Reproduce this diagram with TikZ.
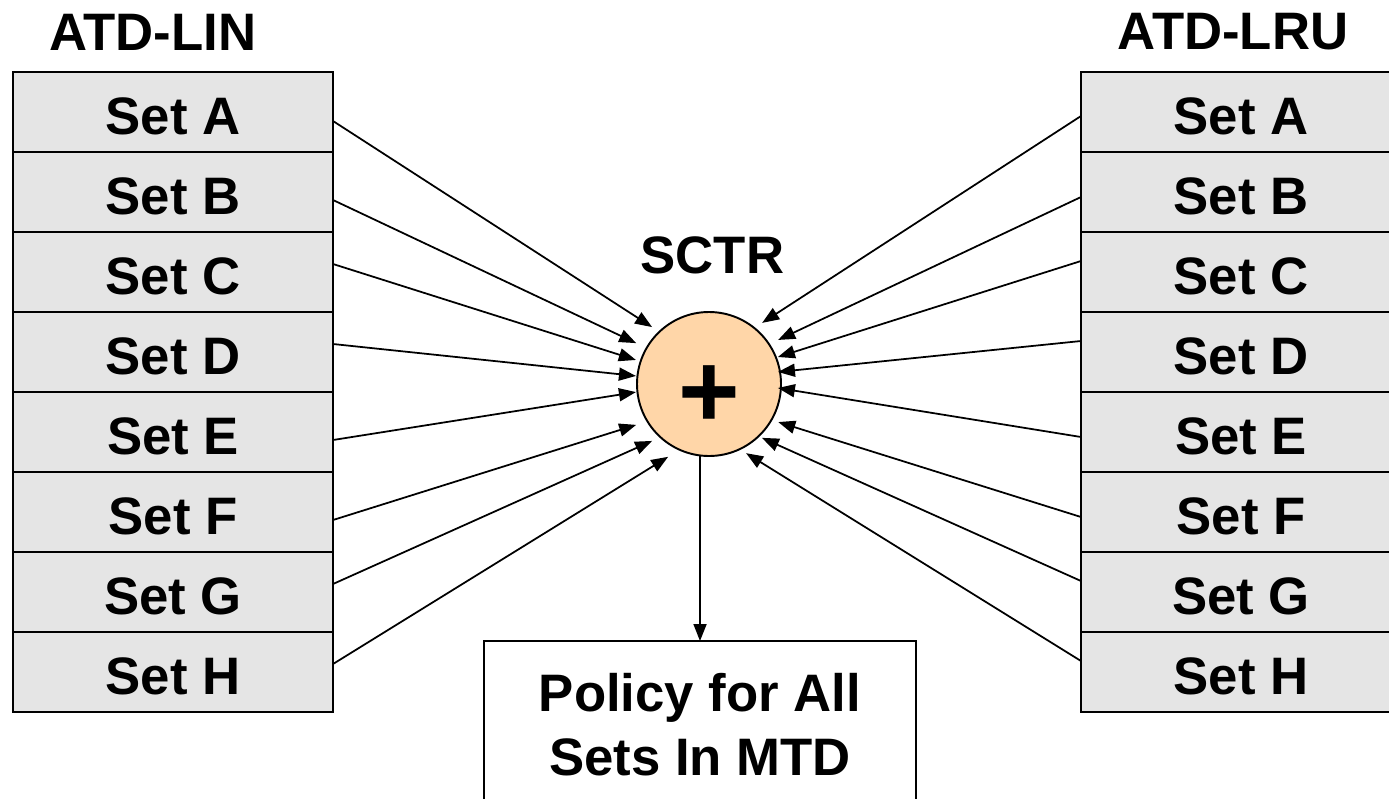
\documentclass[tikz,border=0pt]{standalone}
\usepackage{fontspec}
\setmainfont{Liberation Sans}
\usepackage{tikz}
\usetikzlibrary{arrows.meta, positioning}

\definecolor{cellgray}{RGB}{229,229,229}
\definecolor{sumfill}{RGB}{255,214,168}

\begin{document}
\begin{tikzpicture}[
  every node/.style={font=\fontsize{30}{36.4}\selectfont\bfseries, outer sep=0pt},
  cell/.style={draw, line width=1.1pt, fill=cellgray, minimum width=6.4cm, minimum height=1.6cm, inner sep=0pt, text height=26pt, text depth=0pt},
  arrow/.style={-{Triangle[length=3.4mm, width=2.6mm]}, line width=1pt}
]
\path[use as bounding box, clip] (0,0) rectangle (27.78,-15.96);

% ATD-LIN sets
\node (linT) at (3.06,-0.64) {ATD-LIN};
\node[cell] (lA) at (3.46,-2.24) {Set A};
\node[cell, below=0pt of lA] (lB) {Set B};
\node[cell, below=0pt of lB] (lC) {Set C};
\node[cell, below=0pt of lC] (lD) {Set D};
\node[cell, below=0pt of lD] (lE) {Set E};
\node[cell, below=0pt of lE] (lF) {Set F};
\node[cell, below=0pt of lF] (lG) {Set G};
\node[cell, below=0pt of lG] (lH) {Set H};

% ATD-LRU sets
\node (lruT) at (24.66,-0.64) {ATD-LRU};
\node[cell] (rA) at (24.82,-2.24) {Set A};
\node[cell, below=0pt of rA] (rB) {Set B};
\node[cell, below=0pt of rB] (rC) {Set C};
\node[cell, below=0pt of rC] (rD) {Set D};
\node[cell, below=0pt of rD] (rE) {Set E};
\node[cell, below=0pt of rE] (rF) {Set F};
\node[cell, below=0pt of rF] (rG) {Set G};
\node[cell, below=0pt of rG] (rH) {Set H};

% saturating counter
\node (sctrT) at (14.25,-5.11) {SCTR};
\node[circle, draw, line width=1.1pt, fill=sumfill, minimum size=2.88cm] (sctr) at (14.18,-7.68) {};
\node[font=\fontsize{60}{60}\selectfont\bfseries] (plus) at (14.18,-7.94) {+};

\node[draw, line width=0.6pt, minimum width=8.64cm, minimum height=3.36cm, align=center] (pol) at (14.0,-14.5) {Policy for All\\Sets In MTD};

\draw[arrow] ([yshift=-1.8mm]lA.east) -- ([shift={(135:1.61)}]sctr.center);
\draw[arrow] ([yshift=-1.6mm]lB.east) -- ([shift={(150.7:1.67)}]sctr.center);
\draw[arrow] ([yshift=1.6mm]lC.east) -- ([shift={(161.8:1.54)}]sctr.center);
\draw[arrow] ([yshift=1.6mm]lD.east) -- ([shift={(173.7:1.47)}]sctr.center);
\draw[arrow] ([yshift=-1.6mm]lE.east) -- ([shift={(186.3:1.47)}]sctr.center);
\draw[arrow] ([yshift=-1.6mm]lF.east) -- ([shift={(209.3:1.67)}]sctr.center);
\draw[arrow] ([yshift=1.6mm]lG.east) -- ([shift={(225:1.61)}]sctr.center);
\draw[arrow] ([yshift=1.6mm]lH.east) -- ([shift={(240.7:1.67)}]sctr.center);

\draw[arrow] ([yshift=-0.8mm]rA.west) -- ([shift={(49:1.62)}]sctr.center);
\draw[arrow] ([yshift=-1.0mm]rB.west) -- ([shift={(32.5:1.64)}]sctr.center);
\draw[arrow] ([yshift=2.2mm]rC.west) -- ([shift={(21.4:1.48)}]sctr.center);
\draw[arrow] ([yshift=2.2mm]rD.west) -- ([shift={(9.9:1.40)}]sctr.center);
\draw[arrow] ([yshift=-1.0mm]rE.west) -- ([shift={(-3.3:1.38)}]sctr.center);
\draw[arrow] ([yshift=-1.0mm]rF.west) -- ([shift={(-28.8:1.58)}]sctr.center);
\draw[arrow] ([yshift=2.2mm]rG.west) -- ([shift={(-45.5:1.51)}]sctr.center);
\draw[arrow] ([yshift=2.2mm]rH.west) -- ([shift={(-61.8:1.57)}]sctr.center);

\draw[arrow] (sctr.south -| pol.north) -- (pol.north);

\end{tikzpicture}
\end{document}
